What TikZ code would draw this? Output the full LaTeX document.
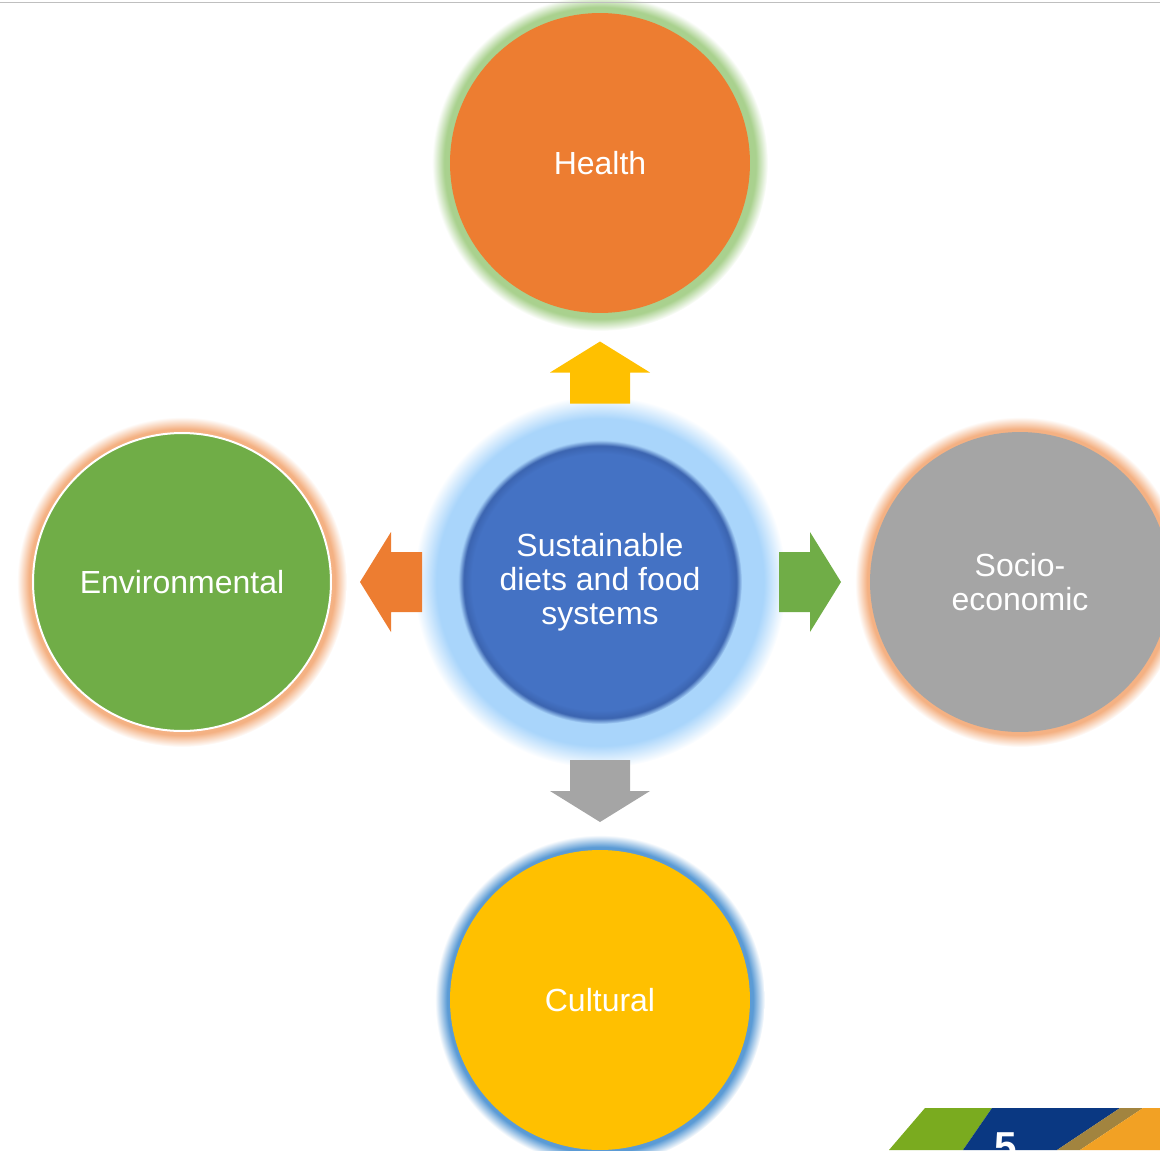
\documentclass[tikz,border=0pt]{standalone}
\usepackage{fontspec}
\setmainfont{Liberation Sans}
\usetikzlibrary{calc}
\usetikzlibrary{backgrounds}

\definecolor{corange}{HTML}{ED7D31}
\definecolor{cgreen}{HTML}{70AD47}
\definecolor{cgrey}{HTML}{A5A5A5}
\definecolor{cyellow}{HTML}{FFC000}
\definecolor{cblue}{HTML}{4472C4}
\definecolor{cbluedk}{HTML}{3B64B0}
\definecolor{clight}{HTML}{A9D5FB}
\definecolor{glowgreen}{HTML}{A9D18E}
\definecolor{gloworange}{HTML}{F4B183}
\definecolor{glowblue}{HTML}{5B9BD5}
\definecolor{logogreen}{HTML}{7AAB1F}
\definecolor{logoblue}{HTML}{0A3882}
\definecolor{logobrown}{HTML}{A2843F}
\definecolor{logoorange}{HTML}{F2A124}
\colorlet{glowcol}{white}

\pgfdeclareradialshading[glowcol]{glow}{\pgfpoint{0bp}{0bp}}{color(0bp)=(glowcol); color(23.2bp)=(glowcol); color(25bp)=(white); color(50bp)=(white)}
\pgfdeclareradialshading{hubglow}{\pgfpoint{0bp}{0bp}}{color(0bp)=(clight); color(22bp)=(clight); color(25bp)=(white); color(50bp)=(white)}
\pgfdeclareradialshading{hubdisk}{\pgfpoint{0bp}{0bp}}{color(0bp)=(cblue); color(22.6bp)=(cblue); color(24bp)=(cbluedk); color(25bp)=(clight); color(50bp)=(clight)}

\newcommand\glowring[3]{\colorlet{glowcol}{#2}\shade[shading=glow] (#1) circle (#3);}

\begin{document}
\begin{tikzpicture}[x=0.02cm,y=-0.02cm,
  label text/.style={text=white,align=center,font=\fontsize{18.2}{19.4}\selectfont},
  spoke/.style={circle,minimum size=6cm,inner sep=0pt,label text},
  hub/.style={circle,minimum size=5.68cm,inner sep=0pt,shading=hubdisk,label text},
  pics/blockarrow/.style={code={
    \fill (-31,-30) -- (0,-30) -- (0,-50) -- (31,0) -- (0,50) -- (0,30) -- (-31,30) -- cycle;}}]

  \useasboundingbox (0,0) rectangle (1160,1150);
  \clip (0,0) rectangle (1160,1150);

  % top rule
  \draw[color=black!25,line width=0.03cm] (0,2.5) -- (1160,2.5);

  \node[hub] (hub) at (600,582) {Sustainable\\diets and food\\systems};

  \node[spoke,fill=corange] (health) at (600,163) {Health};
  \node[spoke,fill=cgreen,draw=white,line width=0.04cm,minimum size=5.96cm] (env) at (182,582) {Environmental};
  \node[spoke,fill=cgrey] (socio) at (1020,582) {Socio-\\economic};
  \node[spoke,fill=cyellow] (cultural) at (600,1000) {Cultural};

  \begin{scope}[on background layer]
    \shade[shading=hubglow] (hub) circle (3.72cm);
    \glowring{health}{glowgreen}{3.36cm}
    \glowring{env}{gloworange}{3.3cm}
    \glowring{socio}{gloworange}{3.3cm}
    \glowring{cultural}{glowblue}{3.3cm}
  \end{scope}

  % block arrows between hub and spokes
  \pic[fill=cyellow,rotate=90] at ($(hub)!0.5!(health)$) {blockarrow};
  \pic[fill=corange,rotate=180] at ($(hub)!0.5!(env)$) {blockarrow};
  \pic[fill=cgreen] at ($(hub)!0.5!(socio)$) {blockarrow};
  \pic[fill=cgrey,rotate=-90] at ($(hub)!0.5!(cultural)$) {blockarrow};

  % page number badge
  \fill[logogreen] (925,1108) -- (992,1108) -- (963,1150) -- (889,1150) -- cycle;
  \fill[logoblue] (992,1108) -- (1120,1108) -- (1057,1150) -- (963,1150) -- cycle;
  \fill[logobrown] (1120,1108) -- (1143,1108) -- (1080,1150) -- (1057,1150) -- cycle;
  \fill[logoorange] (1143,1108) -- (1160,1108) -- (1160,1150) -- (1080,1150) -- cycle;
  \node[text=white,font=\fontsize{23}{23}\selectfont\bfseries,anchor=base,inner sep=0pt] (pagenum) at (1006,1160) {5};
\end{tikzpicture}
\end{document}
